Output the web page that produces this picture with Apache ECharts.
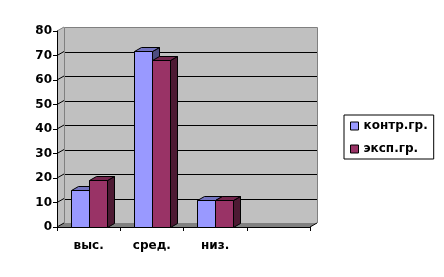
<!DOCTYPE html>
<html><head><meta charset="utf-8">
<script src="https://cdn.jsdelivr.net/npm/echarts@6/dist/echarts.min.js"></script>
<style>html,body{margin:0;padding:0;background:#fff}#c{width:444px;height:277px}</style>
</head><body><div id="c"></div>
<script>
const categories = ['выс.', 'сред.', 'низ.', ''];
const seriesNames = ['контр.гр.', 'эксп.гр.'];
const controlValues = [15, 72, 11, null];
const experimentValues = [19, 68, 11, null];
const yMin = 0, yMax = 80, yStep = 10;

const DX = 7, DY = -4;
const FONT = {fontFamily: 'DejaVu Sans', fontWeight: 'bold', fontSize: 12, color: '#000'};

function toData(vals) {
  const out = [];
  vals.forEach((v, i) => { if (v != null) out.push([i, v]); });
  return out;
}
function px(v) { return Math.round(v) + 0.5; }

function wallsRender(params, api) {
  const cs = params.coordSys;
  const x0 = cs.x, x1 = cs.x + cs.width, yTop = cs.y, yBot = cs.y + cs.height;
  const children = [];
  const gray = '#808080';
  // back wall
  children.push({type: 'rect', shape: {x: x0 + DX, y: yTop + DY, width: cs.width, height: cs.height},
    style: {fill: '#C0C0C0'}});
  // left wall
  children.push({type: 'polygon', shape: {points: [[x0, yTop], [x0 + DX, yTop + DY], [x0 + DX, yBot + DY], [x0, yBot]]},
    style: {fill: '#C0C0C0'}});
  // floor
  children.push({type: 'polygon', shape: {points: [[x0, yBot], [x0 + DX, yBot + DY], [x1 + DX, yBot + DY], [x1, yBot]]},
    style: {fill: gray}});
  // grid lines on back wall and left wall
  for (let v = yMin + yStep; v < yMax; v += yStep) {
    const y = api.coord([0, v])[1];
    children.push({type: 'line', shape: {x1: x0 + DX, y1: px(y + DY), x2: x1 + DX, y2: px(y + DY)},
      style: {stroke: '#000', lineWidth: 1}});
  }
  for (let v = yMin; v <= yMax; v += yStep) {
    const y = api.coord([0, v])[1];
    children.push({type: 'line', shape: {x1: x0, y1: y, x2: x0 + DX, y2: y + DY},
      style: {stroke: v === yMax ? gray : '#000', lineWidth: 1}});
  }
  // back wall border (left, top, right)
  children.push({type: 'polyline', shape: {points: [
      [px(x0 + DX), yBot + DY], [px(x0 + DX), px(yTop + DY)], [px(x1 + DX), px(yTop + DY)], [px(x1 + DX), yBot + DY]]},
    style: {stroke: gray, lineWidth: 1, fill: null}});
  // floor right edge
  children.push({type: 'line', shape: {x1: x1, y1: yBot, x2: x1 + DX, y2: yBot + DY},
    style: {stroke: '#000', lineWidth: 1}});
  return {type: 'group', children: children};
}

function makeBar(side, colors) {
  return function (params, api) {
    const ci = api.value(0), v = api.value(1);
    const top = api.coord([ci, v]);
    const base = api.coord([ci, 0]);
    const band = api.size([1, 0])[0];
    const w = Math.round(band * 0.285);
    const xa = Math.round(top[0]) + (side === 0 ? -w : 0) + 0.5;
    const xb = xa + w;
    const yT = Math.round(top[1]) + 0.5, yB = Math.round(base[1]) + 0.5;
    const st = (f) => ({fill: f, stroke: '#000', lineWidth: 1});
    return {type: 'group', children: [
      {type: 'polygon', shape: {points: [[xb, yB], [xb + DX, yB + DY], [xb + DX, yT + DY], [xb, yT]]}, style: st(colors[2])},
      {type: 'polygon', shape: {points: [[xa, yT], [xa + DX, yT + DY], [xb + DX, yT + DY], [xb, yT]]}, style: st(colors[1])},
      {type: 'rect', shape: {x: xa, y: yT, width: w, height: yB - yT}, style: st(colors[0])}
    ]};
  };
}

const chart = echarts.init(document.getElementById('c'), null, {renderer: 'canvas'});
chart.setOption({
  backgroundColor: '#fff',
  animation: false,
  grid: {left: 57, right: 134, top: 31, bottom: 50, containLabel: false},
  xAxis: {
    type: 'category', data: categories, z: 3,
    axisLine: {lineStyle: {color: '#000', width: 1}},
    axisTick: {show: true, length: 4, lineStyle: {color: '#000'}},
    axisLabel: Object.assign({margin: 13, interval: 0}, FONT),
    splitLine: {show: false}
  },
  yAxis: {
    type: 'value', min: yMin, max: yMax, interval: yStep, z: 3,
    axisLine: {show: true, lineStyle: {color: '#000', width: 1}},
    axisTick: {show: true, length: 4, lineStyle: {color: '#000'}},
    axisLabel: Object.assign({margin: 5}, FONT),
    splitLine: {show: false}
  },
  legend: {
    data: seriesNames, orient: 'vertical', left: 344, top: 115,
    backgroundColor: '#fff', borderColor: '#000', borderWidth: 1,
    padding: [5, 6, 4, 6], itemGap: 11, itemWidth: 8, itemHeight: 8, icon: 'rect',
    textStyle: FONT,
    itemStyle: {borderColor: '#000', borderWidth: 1}
  },
  series: [
    {type: 'custom', name: '_walls', z: 1, silent: true, data: [[0, 0]], renderItem: wallsRender,
      encode: {x: 0, y: 1}},
    {type: 'custom', name: seriesNames[0], z: 4, data: toData(controlValues), encode: {x: 0, y: 1},
      itemStyle: {color: '#9999FF', borderColor: '#000', borderWidth: 1},
      renderItem: makeBar(0, ['#9999FF', '#7373BF', '#4D4D80'])},
    {type: 'custom', name: seriesNames[1], z: 5, data: toData(experimentValues), encode: {x: 0, y: 1},
      itemStyle: {color: '#993366', borderColor: '#000', borderWidth: 1},
      renderItem: makeBar(1, ['#993366', '#73264D', '#4D1A33'])}
  ]
});
</script>
</body></html>
